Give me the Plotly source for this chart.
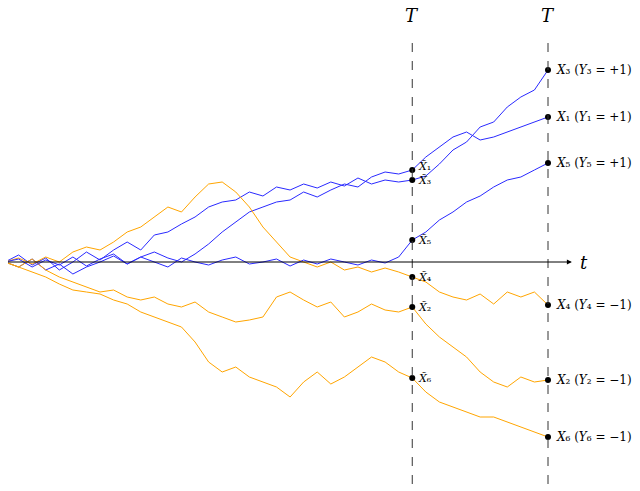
import plotly.graph_objects as go

# time grid: 41 samples from 0 to T=1, T~ = 0.75 (index 30)
t = [i / 40 for i in range(41)]
T_TILDE, T_END = 0.75, 1.0
IDX_TILDE = 30

x1 = [0, -.05, .03, -.08, -.02, -.12, -.05, 0, .06, -.02, .05, .1, .04, 0, .08, .18, .3, .4, .5, .55, .6,
      .62, .7, .65, .72, .78, .75, .85, .9, .88, .92, 1.05, 1.15, 1.25, 1.3, 1.22, 1.25, 1.3, 1.35, 1.4, 1.45]
x3 = [0, .07, -.03, .04, -.08, 0, .1, .02, .12, .2, .12, .27, .3, .38, .45, .55, .6, .62, .7, .66, .75,
      .72, .78, .74, .8, .76, .84, .78, .82, .8, .82, .86, .98, 1.12, 1.2, 1.35, 1.4, 1.55, 1.65, 1.72, 1.92]
x5 = [0, .03, -.05, .02, -.03, .05, -.04, .03, .08, -.02, .05, 0, -.05, .04, 0, -.03, .02, .05, -.02, 0, .03,
      -.04, .02, -.02, .03, 0, -.03, .02, -.01, .05, .22, .3, .42, .5, .6, .66, .75, .82, .85, .92, .99]
x2 = [0, -.05, .03, -.08, -.15, -.2, -.25, -.3, -.28, -.35, -.38, -.35, -.42, -.45, -.4, -.5, -.55, -.6, -.58, -.55,
      -.35, -.3, -.38, -.45, -.4, -.55, -.5, -.42, -.48, -.5, -.45, -.62, -.75, -.85, -.95, -1.1, -1.2, -1.25, -1.15,
      -1.2, -1.18]
x4 = [0, .04, -.02, .05, 0, .1, .15, .12, .2, .3, .35, .45, .55, .5, .65, .78, .8, .7, .55, .35, .2,
      .05, 0, -.05, 0, -.08, -.05, -.1, -.06, -.1, -.15, -.2, -.3, -.35, -.38, -.32, -.42, -.3, -.35, -.3, -.43]
x6 = [0, -.05, -.1, -.15, -.22, -.28, -.3, -.32, -.38, -.42, -.5, -.55, -.6, -.65, -.8, -1.0, -1.1, -1.05, -1.15,
      -1.2, -1.25, -1.35, -1.2, -1.1, -1.22, -1.15, -1.05, -.95, -1.0, -1.1, -1.16, -1.3, -1.4, -1.45, -1.5, -1.55,
      -1.55, -1.6, -1.65, -1.7, -1.75]

paths = {1: (x1, "+1"), 2: (x2, "−1"), 3: (x3, "+1"), 4: (x4, "−1"), 5: (x5, "+1"), 6: (x6, "−1")}
sub = {1: "₁", 2: "₂", 3: "₃", 4: "₄", 5: "₅", 6: "₆"}
BLUE, ORANGE = "#2a2aff", "#ffa500"
FONT = "DejaVu Serif"

fig = go.Figure()
for k, (vals, lab) in paths.items():
    fig.add_trace(go.Scatter(x=t, y=vals, mode="lines",
                             line=dict(color=BLUE if lab == "+1" else ORANGE, width=1),
                             hoverinfo="skip"))
    fig.add_trace(go.Scatter(x=[T_TILDE, T_END], y=[vals[IDX_TILDE], vals[-1]], mode="markers",
                             marker=dict(color="black", size=6), hoverinfo="skip"))
    fig.add_annotation(x=T_TILDE, y=vals[IDX_TILDE], text=f"<i>X̃</i>{sub[k]}", showarrow=False,
                       xanchor="left", xshift=4, yshift=4 if k == 1 else 0,
                       font=dict(family=FONT, size=11, color="black"))
    fig.add_annotation(x=T_END, y=vals[-1], text=f"<i>X</i>{sub[k]} (<i>Y</i>{sub[k]} = {lab})",
                       showarrow=False, xanchor="left", xshift=6, font=dict(family=FONT, size=12, color="black"))

# axes with arrows
fig.add_annotation(x=1.044, y=0, ax=0, ay=0, axref="x", ayref="y", text="", showarrow=True,
                   arrowhead=2, arrowsize=1, arrowwidth=1, arrowcolor="black")
fig.add_annotation(x=0, y=2.24, ax=0, ay=0, axref="x", ayref="y", text="", showarrow=True,
                   arrowhead=2, arrowsize=1, arrowwidth=1, arrowcolor="black")
fig.add_annotation(x=0, y=-2.23, ax=0, ay=0, axref="x", ayref="y", text="", showarrow=True,
                   arrowhead=2, arrowsize=1, arrowwidth=1, arrowcolor="black")
fig.add_annotation(x=1.044, y=0, text="<i>t</i>", showarrow=False, xanchor="left", xshift=6,
                   font=dict(family=FONT, size=18, color="black"))
for xv, txt in [(T_TILDE, "<i>T̃</i>"), (T_END, "<i>T</i>")]:
    fig.add_shape(type="line", x0=xv, x1=xv, y0=-2.4, y1=2.27, line=dict(color="#333", width=1, dash="dash"))
    fig.add_annotation(x=xv, y=2.47, text=txt, showarrow=False, font=dict(family=FONT, size=18, color="black"))

fig.update_layout(
    width=640, height=491, margin=dict(l=0, r=0, t=0, b=0),
    plot_bgcolor="white", paper_bgcolor="white", showlegend=False,
    xaxis=dict(range=[3 / 543, 643 / 543], visible=False),
    yaxis=dict(range=[-2.37, 2.54], visible=False),
)
fig.write_html("out.html")
